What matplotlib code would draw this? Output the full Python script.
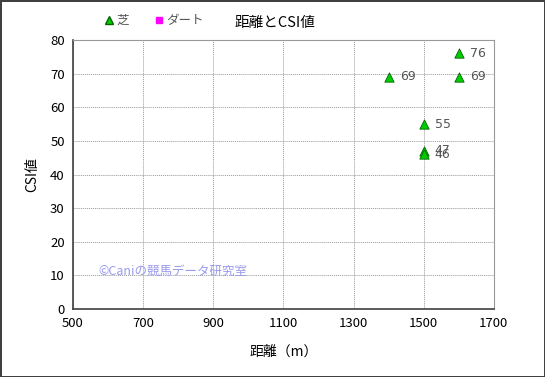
import numpy as np
import matplotlib.pyplot as plt
from matplotlib.lines import Line2D

plt.rcParams['font.family'] = ['Noto Sans CJK JP', 'DejaVu Sans']

# 芝のデータ
shiba_dist = [1400, 1600, 1600, 1500, 1500, 1500]
shiba_csi = [69, 76, 69, 55, 47, 46]
# ダートのデータ (なし)
dirt_dist = []
dirt_csi = []

x_ticks = [500, 700, 900, 1100, 1300, 1500, 1700]
y_ticks = list(range(0, 81, 10))

fig = plt.figure(figsize=(5.45, 3.77), dpi=100)
fig.patch.set_edgecolor('#404040')
fig.patch.set_linewidth(2)
ax = fig.add_axes([0.134, 0.180, 0.772, 0.714])

ax.scatter(shiba_dist, shiba_csi, marker='^', s=45, c='#00cc00',
           edgecolors='#006600', linewidths=0.6, zorder=3)
ax.scatter(dirt_dist, dirt_csi, marker='s', s=40, c='#ff00ff', zorder=3)
for xv, yv in zip(shiba_dist, shiba_csi):
    ax.annotate(str(yv), (xv, yv), xytext=(8, 0), textcoords='offset points',
                va='center', ha='left', fontsize=9, color='#555555',
                family='DejaVu Sans')

ax.set_xlim(500, 1700)
ax.set_ylim(0, 80)
ax.set_xticks(x_ticks)
ax.set_yticks(y_ticks)
ax.tick_params(length=0, labelsize=9.5, pad=6)
ax.grid(True, color='#999999', linestyle=(0, (1, 1)), linewidth=0.7)
ax.set_axisbelow(True)
for s in ['top', 'right']:
    ax.spines[s].set_color('#999999')
for s in ['left', 'bottom']:
    ax.spines[s].set_color('#404040')
    ax.spines[s].set_linewidth(1.2)

ax.set_xlabel('距離（m）', fontsize=10, labelpad=10)
ax.set_ylabel('CSI値', fontsize=10, labelpad=8)
fig.text(0.505, 0.94, '距離とCSI値', ha='center', va='center', fontsize=10.5)

handles = [Line2D([], [], marker='^', color='none', markerfacecolor='#00cc00',
                  markeredgecolor='#006600', markersize=6, label='芝'),
           Line2D([], [], marker='s', color='none', markerfacecolor='#ff00ff',
                  markeredgecolor='#ff00ff', markersize=5, label='ダート')]
leg = fig.legend(handles=handles, loc='center left', bbox_to_anchor=(0.165, 0.945),
                 ncol=2, frameon=False, fontsize=9, handletextpad=0.0,
                 columnspacing=1.8, handlelength=1.2)
for t in leg.get_texts():
    t.set_color('#555555')

ax.text(0.06, 0.142, '©Caniの競馬データ研究室', transform=ax.transAxes,
        fontsize=9, color='#9999ee', va='center', ha='left')

fig.savefig('out.png', dpi=100, edgecolor=fig.get_edgecolor())
